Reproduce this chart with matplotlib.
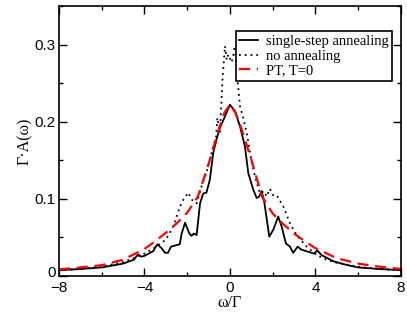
import matplotlib
matplotlib.use("Agg")
import matplotlib.pyplot as plt
import matplotlib.transforms as mtransforms
from matplotlib.ticker import MultipleLocator

# single-step annealing (solid)
ss_x = [-8, -7, -6, -5, -4.5, -4.3, -4.15, -4, -3.6, -3.4, -3.2, -3.04, -2.9, -2.76, -2.5, -2.35,
        -2.26, -2.1, -1.9, -1.8, -1.68, -1.56, -1.4, -1.25, -1.1, -0.94, -0.78, -0.6, -0.47, -0.23,
        0, 0.23, 0.47, 0.70, 0.86, 1.09, 1.25, 1.37, 1.48, 1.6, 1.84, 2.03, 2.26, 2.42, 2.62, 2.81,
        2.96, 3.17, 3.35, 3.59, 3.93, 4.09, 4.29, 4.84, 5.5, 6, 7, 8]
ss_y = [0.0075, 0.009, 0.011, 0.016, 0.021, 0.028, 0.025, 0.026, 0.032, 0.041, 0.036, 0.030, 0.030, 0.038, 0.040, 0.041,
        0.055, 0.069, 0.055, 0.052, 0.055, 0.053, 0.094, 0.107, 0.108, 0.125, 0.160, 0.180, 0.192, 0.207,
        0.222, 0.214, 0.194, 0.168, 0.133, 0.112, 0.101, 0.103, 0.110, 0.097, 0.051, 0.060, 0.077, 0.064, 0.042, 0.038,
        0.030, 0.038, 0.034, 0.032, 0.029, 0.033, 0.027, 0.019, 0.014, 0.011, 0.009, 0.0075]

# no annealing (dotted)
na_x = [-8, -7, -6, -5, -4.5, -4, -3.5, -3, -2.65, -2.34, -2.18, -1.95, -1.79, -1.56, -1.33, -1.1,
        -0.78, -0.65, -0.59, -0.47, -0.34, -0.23, -0.15, -0.08, 0.08, 0.15, 0.23, 0.34, 0.47, 0.62,
        0.78, 0.97, 1.17, 1.4, 1.6, 1.72, 1.87, 2.0, 2.18, 2.5, 2.81, 3.12, 3.59, 4.06, 4.52, 5, 6, 7, 8]
na_y = [0.0075, 0.009, 0.012, 0.018, 0.023, 0.029, 0.037, 0.047, 0.064, 0.090, 0.099, 0.108, 0.099, 0.094, 0.116, 0.134,
        0.168, 0.180, 0.205, 0.186, 0.259, 0.298, 0.280, 0.287, 0.277, 0.285, 0.298, 0.259, 0.220, 0.205,
        0.186, 0.155, 0.129, 0.107, 0.110, 0.103, 0.113, 0.105, 0.105, 0.090, 0.068, 0.053, 0.038, 0.027, 0.021, 0.017, 0.012, 0.009, 0.0075]

# PT, T=0 (dashed red)
pt_x = [-8, -7, -6, -5, -4, -3.5, -3, -2.5, -2, -1.5, -1, -0.5, -0.25, 0,
        0.25, 0.5, 1, 1.5, 2, 2.5, 3, 3.5, 4, 5, 6, 7, 8]
pt_y = [0.0085, 0.011, 0.014, 0.021, 0.035, 0.045, 0.056, 0.068, 0.082, 0.103, 0.145, 0.192, 0.212, 0.222,
        0.212, 0.194, 0.151, 0.103, 0.081, 0.067, 0.055, 0.045, 0.036, 0.023, 0.016, 0.012, 0.009]

fig = plt.figure(figsize=(4.07, 3.15), dpi=100)
ax = fig.add_axes([0.145, 0.124, 0.840, 0.857])

ax.plot(ss_x, ss_y, color="black", lw=1.3, label="single-step annealing")
ax.plot(na_x, na_y, color="black", lw=1.3, ls=(0, (1, 2.2)), label="no annealing")
ax.plot(pt_x, pt_y, color="red", lw=1.6, ls=(0, (5, 3)), label="PT, T=0")

ax.set_xlim(-8, 8)
ax.set_ylim(0, 0.35)
ax.xaxis.set_major_locator(MultipleLocator(4))
ax.xaxis.set_minor_locator(MultipleLocator(2))
ax.yaxis.set_major_locator(MultipleLocator(0.1))
ax.yaxis.set_minor_locator(MultipleLocator(0.05))
ax.set_yticks([0, 0.1, 0.2, 0.3])
ax.set_yticklabels(["0", "0.1", "0.2", "0.3"])
ax.tick_params(which="both", direction="in", top=True, right=True, width=1.0)
ax.tick_params(which="major", length=6, labelsize=11)
ax.tick_params(which="minor", length=3)
ax.tick_params(axis="x", pad=4)
ax.tick_params(axis="y", pad=2.5)
for lab in ax.get_xticklabels() + ax.get_yticklabels():
    lab.set_family("Liberation Sans")
# lift the "0" on the y axis a little so it clears the "-8" below
zero_lab = ax.get_yticklabels()[0]
zero_lab.set_transform(zero_lab.get_transform() +
                       mtransforms.ScaledTranslation(0, 3 / 72, fig.dpi_scale_trans))
for s in ax.spines.values():
    s.set_linewidth(1.2)

ax.set_xlabel("ω/Γ", family="Liberation Serif", fontsize=11.5, labelpad=0)
ax.set_ylabel("Γ·A(ω)", family="Liberation Serif", fontsize=11.5, labelpad=1)

leg = ax.legend(loc="upper right", bbox_to_anchor=(0.974, 0.907), borderaxespad=0,
                prop={"family": "Liberation Serif", "size": 10.5}, handlelength=1.3,
                handletextpad=0.5, labelspacing=0.1, borderpad=0.25, fancybox=False,
                framealpha=1, edgecolor="black")
leg.get_frame().set_linewidth(1.2)

fig.savefig("out.png", dpi=100)
